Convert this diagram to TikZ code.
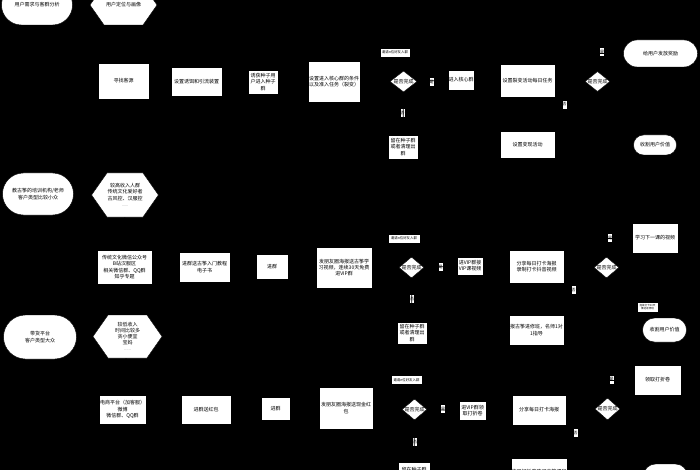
\documentclass[tikz,border=0pt]{standalone}
\usepackage{fontspec}
\setmainfont{Noto Sans CJK SC}
\usetikzlibrary{shapes.geometric,shapes.misc,shapes.symbols,arrows.meta}
\begin{document}
\begin{tikzpicture}[x=1pt,y=-1pt,
 base/.style={fill=white,draw=black,line width=0.4pt,text=black,align=center,inner sep=0.5pt,font=\fontsize{5}{6.2}\selectfont},
 box/.style={base,rectangle},
 term/.style={base,rounded rectangle},
 hexa/.style={base,signal,signal to=west and east,signal pointer angle=110},
 dia/.style={base,diamond,inner sep=0pt},
 dtxt/.style={text=black,inner sep=0pt,font=\fontsize{5}{6}\selectfont},
 lab/.style={fill=white,draw=black,line width=0.3pt,inner sep=0.3pt,minimum width=5pt,minimum height=9pt,font=\fontsize{4}{4.5}\selectfont,text=black,align=center},
 note/.style={lab,font=\fontsize{3.4}{4}\selectfont},
 conn/.style={draw=black,line width=0.6pt,-{Stealth[length=3pt]}}]
\useasboundingbox (0,0) rectangle (700,470);
\fill[black] (0,0) rectangle (700,470);

% ---------- top row ----------
\node[term,minimum width=72pt,minimum height=40pt] (t1) at (37,5) {用户需求与客群分析};
\node[hexa,minimum width=67pt,minimum height=40pt] (t2) at (123.5,5) {用户定位与画像};
\node[box,minimum width=51pt,minimum height=36pt] (b1) at (123.5,81) {寻找客源};
\node[box,minimum width=51pt,minimum height=29pt] (b2) at (196.5,81.5) {设置诱饵和引流装置};
\node[box,minimum width=30pt,minimum height=24pt] (b3) at (263,82) {诱获种子用\\户进入种子\\群};
\node[box,minimum width=52pt,minimum height=41pt] (b4) at (334,81.5) {设置进入核心群的条件\\以及准入任务（裂变）};
\node[note,minimum width=30pt] (l1) at (395,52.5) {邀请n位好友入群};
\node[dia,minimum width=27pt,minimum height=21pt] (d1) at (403.5,81.5) {};
\node[dtxt] (d1t) at (d1) {是否完成};
\node[lab] (y1) at (431.5,82) {是};
\node[box,minimum width=26pt,minimum height=20pt] (b5) at (461,80) {进入核心群};
\node[lab] (n1) at (402.5,113) {否};
\node[box,minimum width=30pt,minimum height=24pt] (b6) at (403,147) {留在种子群\\或者清理出\\群};
\node[box,minimum width=55pt,minimum height=33pt] (b7) at (527.5,80.5) {设置裂变活动每日任务};
\node[dia,minimum width=25pt,minimum height=20pt] (d2) at (597.5,81.5) {};
\node[dtxt] (d2t) at (d2) {是否完成};
\node[lab] (y2) at (602,52) {是};
\node[term,minimum width=75pt,minimum height=27pt] (t3) at (660.5,53.5) {给用户发放奖励};
\node[lab] (n2) at (564.5,104.5) {否};
\node[box,minimum width=55pt,minimum height=27pt] (b8) at (527.5,144.5) {设置变现活动};
\node[term,minimum width=44pt,minimum height=20pt] (t4) at (655,145) {收割用户价值};

\draw[conn] (t1) -- (t2);
\draw[conn] (t2) -- (b1);
\draw[conn] (b1) -- (b2);
\draw[conn] (b2) -- (b3);
\draw[conn] (b3) -- (b4);
\draw[conn] (b4) -- (d1);
\draw[conn] (d1) -- (b5);
\draw[conn] (d1) -- (b6);
\draw[conn] (b5) -- (b7);
\draw[conn] (b7) -- (d2);
\draw[conn] (d2) |- (t3);
\draw[conn] (d2) |- (b8);
\draw[conn] (b8) -- (t4);

% ---------- middle row ----------
\node[term,minimum width=72pt,minimum height=42pt] (t5) at (38,194) {教古筝的培训机构/老师\\客户类型比较小众};
\node[hexa,minimum width=66pt,minimum height=44pt] (t6) at (125,195) {较高收入人群\\传统文化爱好者\\古风控、汉服控\\{\fontsize{3}{3}\selectfont ……}};
\node[box,minimum width=55pt,minimum height=34pt] (b9) at (124.5,267) {传统文化微信公众号\\B站汉服区\\相关微信群、QQ群\\知乎专题};
\node[box,minimum width=51pt,minimum height=30pt] (b10) at (204.5,267) {进群送古筝入门教程\\电子书};
\node[box,minimum width=32pt,minimum height=25pt] (b11) at (272,266.5) {进群};
\node[box,minimum width=56pt,minimum height=41pt] (b12) at (344,267.5) {发朋友圈海报送古筝学\\习视频，连续30天免费\\进VIP群};
\node[note,minimum width=32pt] (l2) at (404,238.5) {邀请n位好友入群};
\node[dia,minimum width=25pt,minimum height=21pt] (d3) at (411.5,267.5) {};
\node[dtxt] (d3t) at (d3) {是否完成};
\node[lab] (y3) at (440.5,267) {是};
\node[box,minimum width=26pt,minimum height=18pt] (b13) at (470,266) {进VIP群接\\VIP课视频};
\node[lab] (n3) at (412,299) {否};
\node[box,minimum width=30pt,minimum height=22pt] (b14) at (412,333) {留在种子群\\或者清理出\\群};
\node[box,minimum width=55pt,minimum height=33pt] (b15) at (536.5,266.5) {分享每日打卡海报\\录制打卡抖音视频};
\node[dia,minimum width=25pt,minimum height=21pt] (d4) at (606.5,267.5) {};
\node[dtxt] (d4t) at (d4) {是否完成};
\node[lab] (y4) at (610,238) {是};
\node[box,minimum width=46pt,minimum height=30pt] (b16) at (655,238) {学习下一课的视频};
\node[lab] (n4) at (573.5,290) {否};
\node[note,minimum width=21pt,minimum height=10pt,font=\fontsize{2.6}{3}\selectfont] (l3) at (647.5,307) {连续打卡30天\\推送进修班};
\node[box,minimum width=55pt,minimum height=30pt] (b17) at (536.5,330) {报古筝进修班，名师1对\\1指导};
\node[term,minimum width=45pt,minimum height=24pt] (t7) at (664.5,330) {收割用户价值};

\draw[conn] (t5) -- (t6);
\draw[conn] (t6) -- (b9);
\draw[conn] (b9) -- (b10);
\draw[conn] (b10) -- (b11);
\draw[conn] (b11) -- (b12);
\draw[conn] (b12) -- (d3);
\draw[conn] (d3) -- (b13);
\draw[conn] (d3) -- (b14);
\draw[conn] (b13) -- (b15);
\draw[conn] (b15) -- (d4);
\draw[conn] (d4) |- (b16);
\draw[conn] (d4) |- (b17);
\draw[conn] (b17) -- (t7);

% ---------- bottom row ----------
\node[term,minimum width=74pt,minimum height=44pt] (t8) at (40,337) {带货平台\\客户类型大众};
\node[hexa,minimum width=69pt,minimum height=43pt] (t9) at (127.5,336.5) {较低收入\\时间比较多\\贪小便宜\\宝妈\\{\fontsize{3}{3}\selectfont ……}};
\node[box,minimum width=47pt,minimum height=29pt] (b18) at (122.5,409.5) {电商平台（加客服）\\微博\\微信群、QQ群};
\node[box,minimum width=50pt,minimum height=29pt] (b19) at (206,409.5) {进群送红包};
\node[box,minimum width=29pt,minimum height=23pt] (b20) at (275.5,408.5) {进群};
\node[box,minimum width=54pt,minimum height=42pt] (b21) at (346,408) {发朋友圈海报送现金红\\包};
\node[note,minimum width=31pt] (l4) at (406.5,380) {邀请n位好友入群};
\node[dia,minimum width=25pt,minimum height=21pt] (d5) at (414.5,409.5) {};
\node[dtxt] (d5t) at (d5) {是否完成};
\node[lab] (y5) at (443,409) {是};
\node[box,minimum width=27pt,minimum height=19pt] (b22) at (472.5,410.5) {进VIP群领\\取打折卷};
\node[lab] (n5) at (415,442) {否};
\node[box,minimum width=32pt,minimum height=28pt] (b23) at (414,476) {留在种子群\\或者清理出\\群};
\node[box,minimum width=54pt,minimum height=30pt] (b24) at (539,410) {分享每日打卡海报};
\node[dia,minimum width=25pt,minimum height=22pt] (d6) at (607.5,409) {};
\node[dtxt] (d6t) at (d6) {是否完成};
\node[lab] (y6) at (611.5,379.5) {是};
\node[box,minimum width=47pt,minimum height=30pt] (b25) at (657.5,380) {领取打折卷};
\node[lab] (n6) at (575.5,433) {否};
\node[box,minimum width=54pt,minimum height=28pt] (b26) at (539,472) {使用打折卷购买古筝课程};
\node[term,minimum width=45pt,minimum height=24pt] (t10) at (665.5,476) {收割用户价值};

\draw[conn] (t8) -- (t9);
\draw[conn] (t9) -- (b18);
\draw[conn] (b18) -- (b19);
\draw[conn] (b19) -- (b20);
\draw[conn] (b20) -- (b21);
\draw[conn] (b21) -- (d5);
\draw[conn] (d5) -- (b22);
\draw[conn] (d5) -- (b23);
\draw[conn] (b22) -- (b24);
\draw[conn] (b24) -- (d6);
\draw[conn] (d6) |- (b25);
\draw[conn] (d6) |- (b26);
\draw[conn] (b26) -- (t10);
\end{tikzpicture}
\end{document}
